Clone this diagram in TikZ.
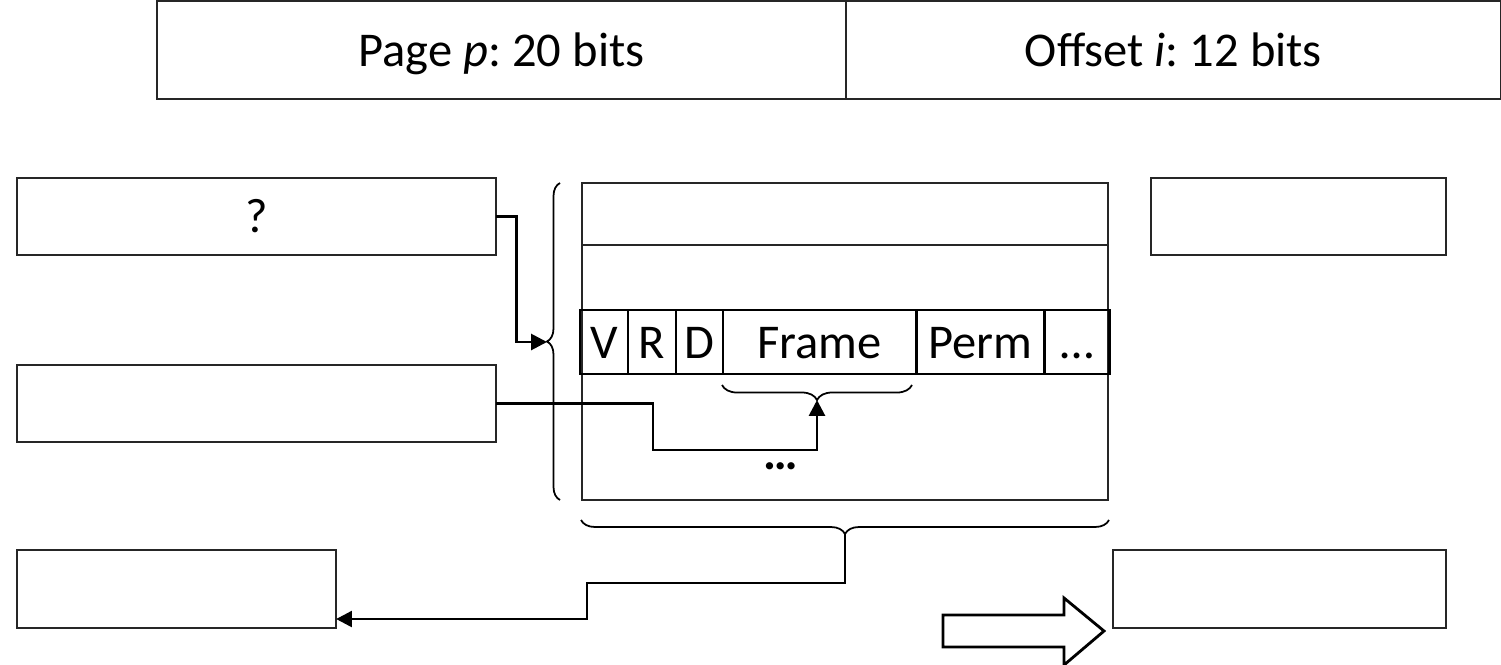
\documentclass[tikz,border=0pt]{standalone}
\usepackage{fontspec}
\setmainfont{Carlito}
\usepackage{tikz}
\usetikzlibrary{arrows.meta,positioning,decorations.pathreplacing}
\frenchspacing

\begin{document}
\begin{tikzpicture}[
  x=0.01cm, y=-0.01cm,
  font=\fontsize{13.8}{16}\selectfont,
  field/.style={rectangle, draw=black!85, line width=0.5pt, minimum height=0.98cm, inner sep=0pt, outer sep=0pt, text height=9.8pt, text depth=0.6pt},
  slot/.style={rectangle, draw=black!85, line width=0.5pt, minimum height=0.77cm, inner sep=0pt, outer sep=0pt, text height=9.8pt, text depth=0.6pt},
  cell/.style={rectangle, draw=black, line width=0.8pt, minimum height=0.64cm, inner sep=0pt, outer sep=0pt, text height=9.8pt, text depth=0.6pt},
  curly/.style={decorate, decoration={brace, amplitude=#1}, line width=0.5pt},
  link/.style={-{Triangle[length=4.5pt, width=4.5pt]}, line width=0.8pt}
]
\useasboundingbox (0,0) rectangle (1501,664);

\node[field, minimum width=6.89cm] (pagefield) at (501.5,50) {Page \textit{p}: 20 bits};
\node[field, minimum width=6.54cm, right=0pt of pagefield] (offsetfield) {Offset \textit{i}: 12 bits};

\node[slot, minimum width=4.79cm] (qbox) at (256.5,216.5) {?};
\node[slot, minimum width=4.79cm] (midbox) at (256.5,403.5) {};
\node[slot, minimum width=3.19cm, minimum height=0.78cm] (lowbox) at (176.5,589) {};
\node[slot, minimum width=2.95cm] (rightbox) at (1298.5,216.5) {};
\node[slot, minimum width=3.33cm, minimum height=0.78cm] (resultbox) at (1279.5,589) {};

\node[slot, minimum width=5.26cm, minimum height=3.17cm] (pagetable) at (845,341.5) {};
\draw[black!85, line width=0.5pt] (pagetable.west |- 0,245) -- (pagetable.east |- 0,245);

\node[cell, minimum width=0.48cm] (vbit) at (604,342) {V};
\node[cell, minimum width=0.48cm, right=0pt of vbit] (rbit) {R};
\node[cell, minimum width=0.47cm, right=0pt of rbit] (dbit) {D};
\node[cell, minimum width=1.93cm, right=0pt of dbit] (frame) {Frame};
\node[cell, minimum width=1.28cm, right=0pt of frame] (perm) {Perm};
\node[cell, minimum width=0.65cm, right=0pt of perm] (more) {\dots};

\node[font=\fontsize{13.8}{16}\selectfont\bfseries] (moredots) at (781,466) {\dots};

\draw[curly=0.13cm] (560,500) -- (560,183);
\draw[curly=0.15cm] (912,385) -- (722,385);
\draw[curly=0.14cm] (1109,520) -- (581,520);
\coordinate (rowtip) at (547,342);
\coordinate (frametip) at (817,400);
\coordinate (tabletip) at (845,534);

\draw[link] (qbox.east) -- ++(20,0) |- (rowtip);
\draw[link] (midbox.east) -| (653,450) -| (frametip);
\draw[link] (tabletip) |- (587,583) |- ([yshift=0.09cm]lowbox.south east);

\draw[black, line width=0.8pt] (943,615) -- (1064,615) -- (1064,598) -- (1104,631) -- (1064,665) -- (1064,647) -- (943,647) -- cycle;
\end{tikzpicture}
\end{document}
